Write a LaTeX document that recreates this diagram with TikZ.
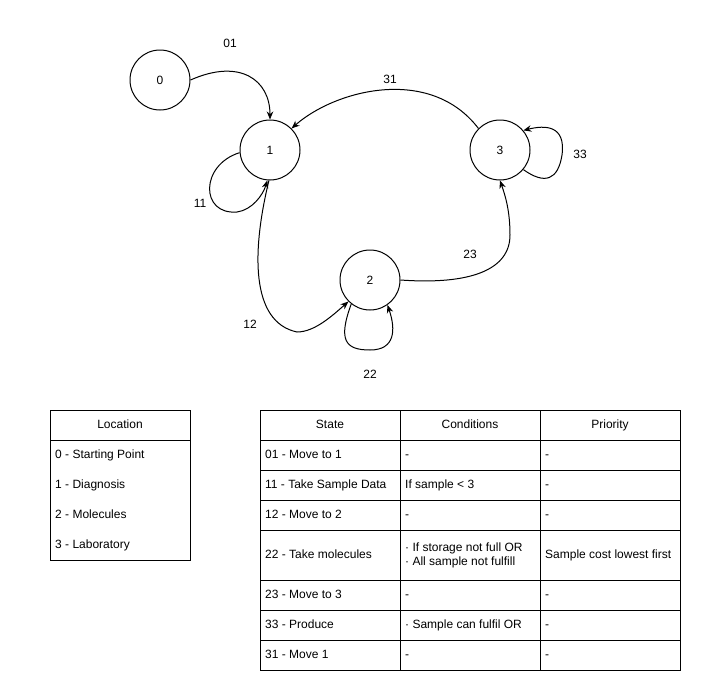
\documentclass[tikz,border=0pt]{standalone}
\usepackage{fontspec}
\setmainfont{Liberation Sans}
\usetikzlibrary{arrows.meta}
\begin{document}
\begin{tikzpicture}[x=1pt,y=-1pt,
  state/.style={circle,draw,line width=1pt,minimum size=60pt,inner sep=0pt,font=\fontsize{12}{14}\selectfont},
  edge/.style={line width=1pt,-{Stealth[length=8pt,width=6.5pt]}},
  lbl/.style={font=\fontsize{12}{14}\selectfont,inner sep=0pt,text height=8.6pt,text depth=2.4pt},
  cell/.style={font=\fontsize{12}{14}\selectfont,inner sep=0pt,anchor=west,text height=8.6pt,text depth=2.4pt},
  hcell/.style={font=\fontsize{12}{14}\selectfont,inner sep=0pt,text height=8.6pt,text depth=2.4pt},
  tline/.style={line width=1pt}]
\useasboundingbox (0,0) rectangle (723,699);
% states
\node[state] (n0) at (160,80) {0};
\node[state] (n1) at (270,150) {1};
\node[state] (n2) at (370,280) {2};
\node[state] (n3) at (500,150) {3};
% edges
\draw[edge] (n0.east) .. controls (240,58) and (270,80) .. (n1.north);
\draw[edge] (n1.185) .. controls (200,165) and (200,215) .. (237,212) .. controls (252,210) and (263,195) .. (n1.-95);
\draw[edge] (n1.-92) .. controls (252,250) and (250,322) .. (297,332) .. controls (315,332) and (333,315) .. (n2.-135);
\draw[edge] (n3.135) .. controls (430,65) and (335,90) .. (n1.45);
\draw[edge] (n3.-40) .. controls (545,185) and (558,180) .. (562,155) .. controls (566,125) and (545,125) .. (n3.40);
\draw[edge] (n2.-128) .. controls (338,340) and (345,350) .. (370,350) .. controls (395,350) and (396,330) .. (n2.-55);
\draw[edge] (n2.east) .. controls (470,285) and (510,270) .. (510,235) .. controls (510,210) and (505,195) .. (n3.south);
% edge labels
\node[lbl] (l01) at (230,44) {01};
\node[lbl] (l11) at (200,204) {11};
\node[lbl] (l31) at (390,80) {31};
\node[lbl] (l33) at (580,155) {33};
\node[lbl] (l23) at (470,255) {23};
\node[lbl] (l12) at (250,325) {12};
\node[lbl] (l22) at (370,375) {22};
% Location table
\draw[tline] (50,410) rectangle (190,560);
\draw[tline] (50,440) -- (190,440);
\node[hcell] (loch) at (120,425) {Location};
\node[cell] (loc0) at (55,455) {0 - Starting Point};
\node[cell] (loc1) at (55,485) {1 - Diagnosis};
\node[cell] (loc2) at (55,515) {2 - Molecules};
\node[cell] (loc3) at (55,545) {3 - Laboratory};
% State table
\draw[tline] (260,410) rectangle (680,670);
\foreach \yy in {440,470,500,530,580,610,640} \draw[tline] (260,\yy) -- (680,\yy);
\draw[tline] (400,410) -- (400,670);
\draw[tline] (540,410) -- (540,670);
\node[hcell] (hs) at (330,425) {State};
\node[hcell] (hc) at (470,425) {Conditions};
\node[hcell] (hp) at (610,425) {Priority};
\node[cell] (s1) at (265,455) {01 - Move to 1};
\node[cell] (s2) at (265,485) {11 - Take Sample Data};
\node[cell] (s3) at (265,515) {12 - Move to 2};
\node[cell] (s4) at (265,555) {22 - Take molecules};
\node[cell] (s5) at (265,595) {23 - Move to 3};
\node[cell] (s6) at (265,625) {33 - Produce};
\node[cell] (s7) at (265,655) {31 - Move 1};
\node[cell] (c1) at (405,455) {-};
\node[cell] (c2) at (405,485) {If sample < 3};
\node[cell] (c3) at (405,515) {-};
\node[cell,align=left,text height=,text depth=] (c4) at (405,555) {· If storage not full OR\\· All sample not fulfill};
\node[cell] (c5) at (405,595) {-};
\node[cell] (c6) at (405,625) {· Sample can fulfil OR};
\node[cell] (c7) at (405,655) {-};
\node[cell] (p1) at (545,455) {-};
\node[cell] (p2) at (545,485) {-};
\node[cell] (p3) at (545,515) {-};
\node[cell] (p4) at (545,555) {Sample cost lowest first};
\node[cell] (p5) at (545,595) {-};
\node[cell] (p6) at (545,625) {-};
\node[cell] (p7) at (545,655) {-};
\end{tikzpicture}
\end{document}
